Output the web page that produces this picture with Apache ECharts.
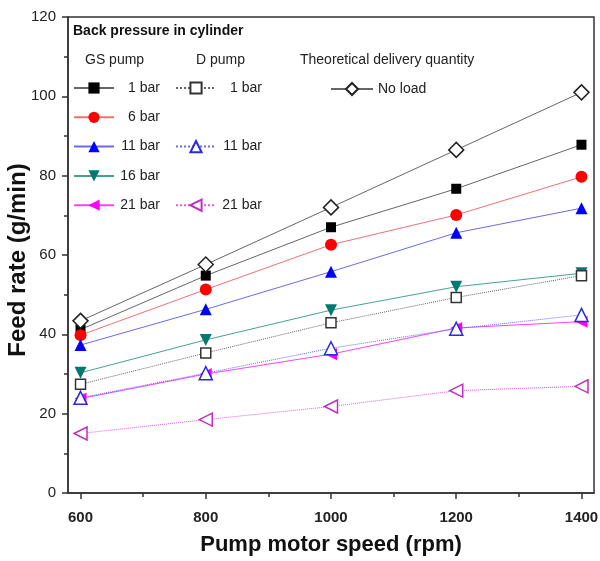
<!DOCTYPE html>
<html>
<head>
<meta charset="utf-8">
<script src="https://cdn.jsdelivr.net/npm/echarts@6/dist/echarts.min.js"></script>
<style>
  html, body { margin: 0; padding: 0; background: #fff; }
  #main { width: 600px; height: 561px; }
</style>
</head>
<body>
<div id="main"></div>
<script>
// pump motor speed (rpm)
const speeds = [600, 800, 1000, 1200, 1400]
const xMajorTicks = [600, 800, 1000, 1200, 1400]
const xMinorTicks = [700, 900, 1100, 1300]

// feed rate (g/min)
const noLoad = [43.4, 57.6, 72.0, 86.5, 101.0]
const gs1 = [41.2, 54.8, 67.0, 76.7, 87.8]
const gs6 = [39.8, 51.3, 62.6, 70.1, 79.7]
const gs11 = [37.3, 46.3, 55.8, 65.6, 71.8]
const gs16 = [30.3, 38.6, 46.1, 52.0, 55.4]
const gs21 = [23.8, 30.0, 35.0, 41.6, 43.2]
const d1 = [27.4, 35.3, 42.9, 49.3, 54.8]
const d11 = [24.0, 30.2, 36.5, 41.4, 44.9]
const d21 = [15.0, 18.5, 21.8, 25.8, 26.9]

const font = 'Liberation Sans, Arial, sans-serif'

function pairs(ys) {
  return speeds.map((x, i) => [x, ys[i]])
}

function makeSeries(name, ys, opt) {
  return {
    name: name,
    type: 'line',
    data: pairs(ys),
    symbol: opt.symbol,
    symbolSize: opt.size || 11,
    symbolRotate: opt.rotate || 0,
    lineStyle: { color: opt.line, width: 1, type: opt.dash ? 'dotted' : 'solid' },
    itemStyle: opt.open
      ? { color: '#fff', borderColor: opt.mark, borderWidth: 1.5 }
      : { color: opt.mark, borderWidth: 0 },
    emphasis: { disabled: true },
    z: opt.z || 2,
    animation: false
  }
}

let myChart = echarts.init(document.getElementById('main'))

const labelRich = {
  fontFamily: font,
  fontSize: 14,
  color: '#222',
  rich: { r: { width: 41, align: 'right', fontSize: 14, fontFamily: font, color: '#222' } }
}

myChart.setOption({
  backgroundColor: '#fff',
  animation: false,
  grid: {
    left: 68, right: 6, top: 17, bottom: 68,
    outerBoundsMode: 'none',
    containLabel: false,
    show: true, borderColor: '#333', borderWidth: 1.5
  },
  xAxis: [
    {
      type: 'value',
      min: 580,
      max: 1420,
      name: 'Pump motor speed (rpm)',
      nameLocation: 'middle',
      nameGap: 41,
      nameMoveOverlap: false,
      nameTextStyle: { fontFamily: font, fontWeight: 'bold', fontSize: 22, color: '#111' },
      axisLine: { lineStyle: { color: '#333', width: 1.5 } },
      axisTick: { customValues: xMajorTicks, length: 6, lineStyle: { color: '#333', width: 1.5 } },
      axisLabel: {
        customValues: xMajorTicks, margin: 17, fontFamily: font, fontWeight: 'bold', fontSize: 15, color: '#222',
        formatter: (v) => String(v)
      },
      splitLine: { show: false }
    },
    {
      type: 'value',
      min: 580,
      max: 1420,
      position: 'bottom',
      axisLine: { show: false },
      axisTick: { customValues: xMinorTicks, length: 4, lineStyle: { color: '#333', width: 1.5 } },
      axisLabel: { show: false },
      splitLine: { show: false }
    }
  ],
  yAxis: {
    type: 'value',
    min: 0,
    max: 120,
    interval: 20,
    name: 'Feed rate (g/min)',
    nameLocation: 'middle',
    nameGap: 38,
    nameMoveOverlap: false,
    nameTextStyle: { fontFamily: font, fontWeight: 'bold', fontSize: 24, color: '#111', padding: [0, 10, 0, 0] },
    axisLine: { show: true, lineStyle: { color: '#333', width: 1.5 } },
    axisTick: { show: true, length: 6, lineStyle: { color: '#333', width: 1.5 } },
    minorTick: { show: true, splitNumber: 2, length: 4, lineStyle: { color: '#333', width: 1.5 } },
    axisLabel: { margin: 12, fontFamily: font, fontSize: 15, color: '#222' },
    splitLine: { show: false }
  },
  legend: [
    {
      data: ['GS 1 bar', 'GS 6 bar', 'GS 11 bar', 'GS 16 bar', 'GS 21 bar'],
      orient: 'vertical',
      left: 73,
      top: 81,
      padding: 0,
      itemWidth: 40,
      itemHeight: 14,
      itemGap: 15.3,
      selectedMode: false,
      formatter: (n) => '{r|' + n.replace('GS ', '') + '}',
      textStyle: labelRich
    },
    {
      data: ['D 1 bar', 'D 11 bar', 'D 21 bar'],
      orient: 'vertical',
      left: 175,
      top: 81,
      padding: 0,
      itemWidth: 40,
      itemHeight: 14,
      itemGap: 44.6,
      selectedMode: false,
      formatter: (n) => '{r|' + n.replace('D ', '') + '}',
      textStyle: labelRich
    },
    {
      data: ['No load'],
      left: 330,
      top: 82,
      padding: 0,
      itemWidth: 42,
      itemHeight: 15,
      selectedMode: false,
      textStyle: { fontFamily: font, fontSize: 14, color: '#222' }
    }
  ],
  graphic: [
    { type: 'text', left: 73, top: 24, style: { text: 'Back pressure in cylinder', font: 'bold 14px ' + font, fill: '#111' } },
    { type: 'text', left: 85, top: 53, style: { text: 'GS pump', font: '14px ' + font, fill: '#222' } },
    { type: 'text', left: 196, top: 53, style: { text: 'D pump', font: '14px ' + font, fill: '#222' } },
    { type: 'text', left: 300, top: 53, style: { text: 'Theoretical delivery quantity', font: '14px ' + font, fill: '#222' } }
  ],
  series: [
    makeSeries('No load', noLoad, { symbol: 'diamond', size: 15, line: '#666', mark: '#222', open: true, z: 3 }),
    makeSeries('GS 1 bar', gs1, { symbol: 'rect', size: 10, line: '#666', mark: '#000' }),
    makeSeries('GS 6 bar', gs6, { symbol: 'circle', size: 12, line: '#f07070', mark: '#ff0000' }),
    makeSeries('GS 11 bar', gs11, { symbol: 'triangle', size: 12, line: '#6a6af0', mark: '#0000ff' }),
    makeSeries('GS 16 bar', gs16, { symbol: 'triangle', size: 12, rotate: 180, line: '#4aa090', mark: '#007a70' }),
    makeSeries('GS 21 bar', gs21, { symbol: 'triangle', size: 12, rotate: 90, line: '#ff40ff', mark: '#ff00ff' }),
    makeSeries('D 1 bar', d1, { symbol: 'rect', size: 10, line: '#666', mark: '#333', open: true, dash: true }),
    makeSeries('D 11 bar', d11, { symbol: 'triangle', size: 13, line: '#6a6af0', mark: '#2a2ae0', open: true, dash: true }),
    makeSeries('D 21 bar', d21, { symbol: 'triangle', size: 13, rotate: 90, line: '#e060e0', mark: '#c030c0', open: true, dash: true })
  ]
})
</script>
</body>
</html>
